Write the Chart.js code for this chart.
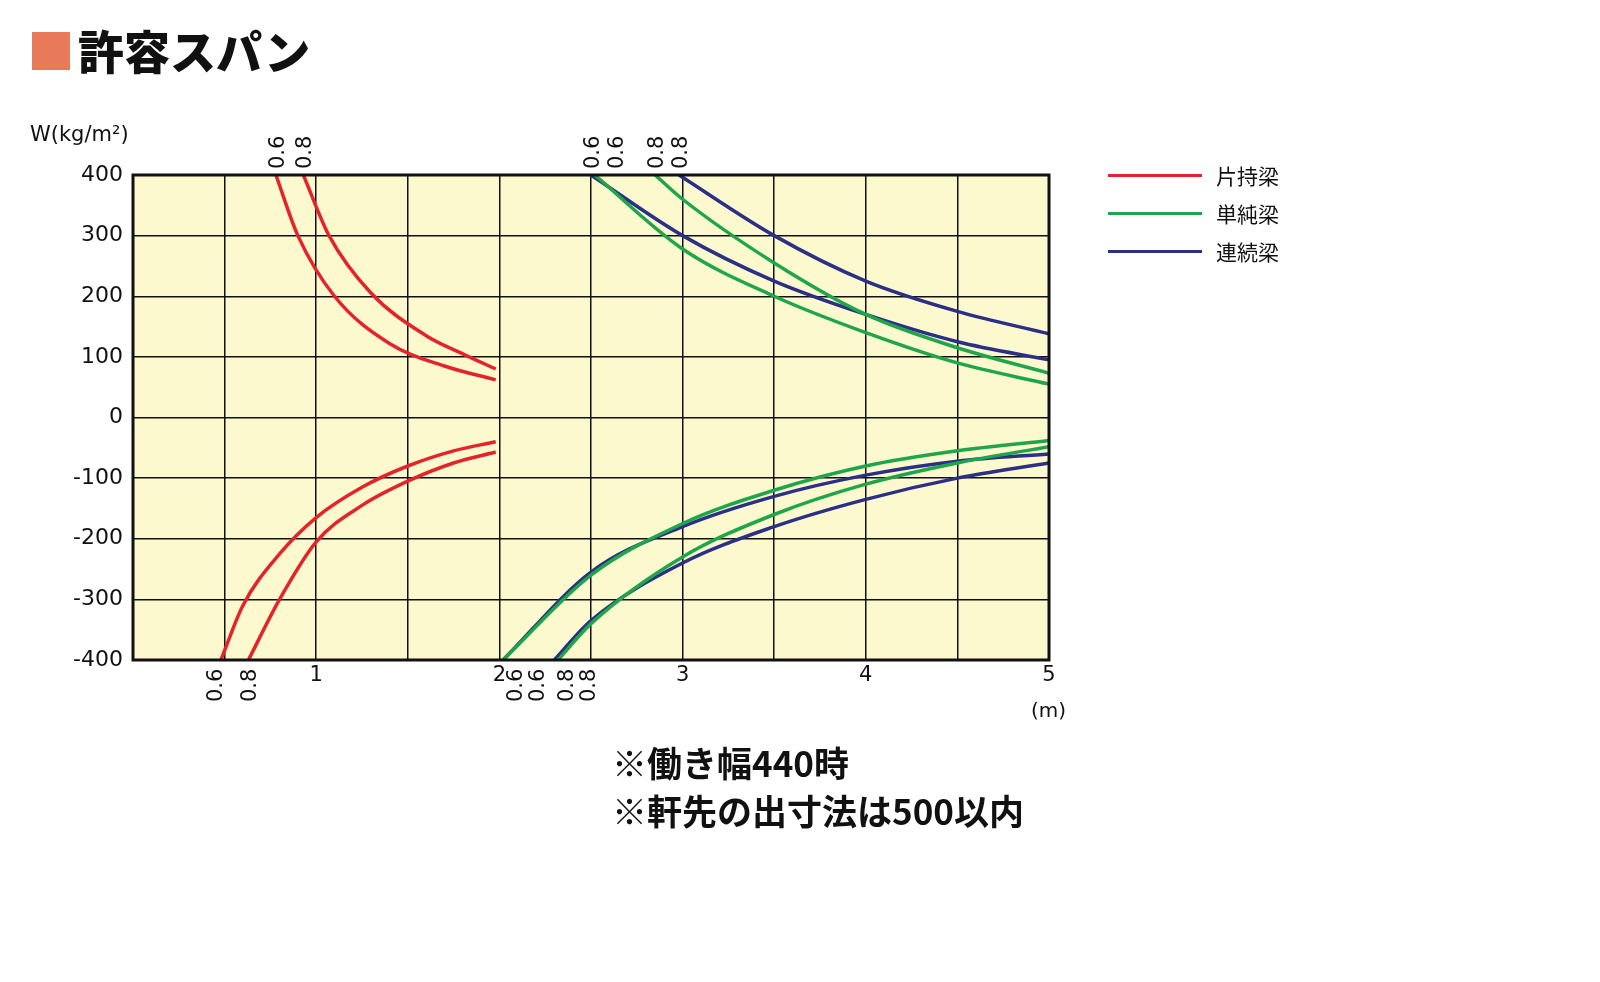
<!DOCTYPE html>
<html><head><meta charset="utf-8">
<script src="https://cdn.jsdelivr.net/npm/chart.js@4"></script>
<style>
body{margin:0;width:1600px;height:982px;background:#fff;font-family:"Noto Sans CJK JP",sans-serif;position:relative;overflow:hidden}
#wrap{position:absolute;left:0;top:0;width:1600px;height:982px}
.t{position:absolute;color:#111;z-index:2}
</style></head><body>
<div id="wrap"><canvas id="chart" width="1600" height="982"></canvas></div>
<div class="t" style="left:32px;top:32px;width:38px;height:38px;background:#e8795a"></div>
<div class="t" style="left:78px;top:16px;font-size:46px;font-weight:900">許容スパン</div>
<div class="t" style="left:30px;top:122px;font-size:21px;font-family:'DejaVu Sans'">W(kg/m²)</div>
<div class="t" style="left:1031px;top:698px;font-size:20px;font-family:'DejaVu Sans'">(m)</div>
<div class="t" style="left:612px;top:738px;font-size:35px;font-weight:700;line-height:48px">※働き幅440時<br>※軒先の出寸法は500以内</div>
<div id="legend" class="t" style="left:1108px;top:156px;font-size:21px"></div>
<script>
const RED = "#e3242b", GREEN = "#1fa54a", BLUE = "#2b2f86";
const redTop06 = [[0.78,400],[0.9,300],[1.1,200],[1.4,122],[1.7,85],[1.98,62]];
const redTop08 = [[0.93,400],[1.07,300],[1.3,205],[1.6,135],[1.8,105],[1.98,80]];
const redBot06 = [[0.48,-400],[0.6,-310],[0.8,-225],[1.0,-165],[1.25,-115],[1.5,-80],[1.75,-55],[1.98,-40]];
const redBot08 = [[0.63,-400],[0.8,-300],[1.0,-205],[1.25,-145],[1.5,-105],[1.75,-75],[1.98,-57]];
const greenTop06 = [[2.52,400],[3,278],[3.5,200],[4,140],[4.5,90],[5,55]];
const greenTop08 = [[2.85,400],[3,360],[3.5,255],[4,170],[4.5,115],[5,73]];
const blueTop06 = [[2.5,400],[3,300],[3.5,225],[4,170],[4.5,125],[5,95]];
const blueTop08 = [[2.98,400],[3.5,300],[4,225],[4.5,175],[5,138]];
const greenBot06 = [[2.02,-400],[2.5,-260],[3,-175],[3.5,-120],[4,-80],[4.5,-55],[5,-38]];
const greenBot08 = [[2.32,-400],[2.5,-340],[3,-230],[3.5,-160],[4,-110],[4.5,-75],[5,-48]];
const blueBot06 = [[2.02,-400],[2.5,-255],[3,-180],[3.5,-130],[4,-95],[4.5,-72],[5,-60]];
const blueBot08 = [[2.3,-400],[2.5,-335],[3,-240],[3.5,-180],[4,-135],[4.5,-100],[5,-75]];
const topMarks = [[0.78,"0.6"],[0.93,"0.8"],[2.5,"0.6"],[2.63,"0.6"],[2.85,"0.8"],[2.98,"0.8"]];
const botMarks = [[0.44,"0.6"],[0.63,"0.8"],[2.08,"0.6"],[2.2,"0.6"],[2.36,"0.8"],[2.48,"0.8"]];
const legendItems = [["片持梁",RED],["単純梁",GREEN],["連続梁",BLUE]];

document.getElementById("legend").innerHTML = legendItems.map(([n,c]) =>
  `<div style="display:flex;align-items:center;height:38px"><span style="display:inline-block;width:94px;height:3px;background:${c};margin-right:14px"></span>${n}</div>`).join("");

function ds(pts, color) {
  return { data: pts.map(p => ({x:p[0], y:p[1]})), borderColor: color, borderWidth: 3.5,
    showLine: true, pointRadius: 0, cubicInterpolationMode: "monotone", fill: false };
}

const deco = {
  id: "deco",
  beforeDraw(c) {
    const a = c.chartArea, ctx = c.ctx;
    ctx.save(); ctx.fillStyle = "#fdf9cf"; ctx.fillRect(a.left, a.top, a.width, a.height); ctx.restore();
  },
  afterDraw(c) {
    const a = c.chartArea, ctx = c.ctx, xs = c.scales.x;
    ctx.save();
    ctx.strokeStyle = "#111"; ctx.lineWidth = 3; ctx.strokeRect(a.left, a.top, a.width, a.height);
    ctx.fillStyle = "#111"; ctx.font = "21px 'DejaVu Sans'";
    topMarks.forEach(([v,t]) => {
      ctx.save(); ctx.translate(xs.getPixelForValue(v) + 8, a.top - 6); ctx.rotate(-Math.PI/2);
      ctx.textAlign = "left"; ctx.fillText(t, 0, 0); ctx.restore();
    });
    botMarks.forEach(([v,t]) => {
      ctx.save(); ctx.translate(xs.getPixelForValue(v) + 8, a.bottom + 42); ctx.rotate(-Math.PI/2);
      ctx.textAlign = "left"; ctx.fillText(t, 0, 0); ctx.restore();
    });
    ctx.restore();
  }
};

new Chart(document.getElementById("chart"), {
  type: "scatter",
  data: { datasets: [
    ds(redTop06,RED), ds(redTop08,RED), ds(redBot06,RED), ds(redBot08,RED),
    ds(greenTop06,GREEN), ds(greenTop08,GREEN), ds(greenBot06,GREEN), ds(greenBot08,GREEN),
    ds(blueTop06,BLUE), ds(blueTop08,BLUE), ds(blueBot06,BLUE), ds(blueBot08,BLUE)
  ]},
  options: {
    responsive: false, animation: false, devicePixelRatio: 1,
    layout: { padding: { top: 175, right: 551, left: 0, bottom: 0 } },
    plugins: { legend: { display: false }, tooltip: { enabled: false } },
    scales: {
      x: { type: "linear", min: 0, max: 5,
        ticks: { stepSize: 0.5, color: "#111", font: { size: 21, family: "DejaVu Sans" },
          callback: v => (Number.isInteger(v) && v > 0) ? String(v) : "", maxRotation: 0, autoSkip: false },
        grid: { color: "#111", lineWidth: 1.5, drawTicks: false },
        border: { display: false },
        afterFit: s => { s.height = 322; } },
      y: { min: -400, max: 400,
        ticks: { stepSize: 100, color: "#111", font: { size: 22, family: "DejaVu Sans" }, padding: 10 },
        grid: { color: "#111", lineWidth: 1.5, drawTicks: false },
        border: { display: false },
        afterFit: s => { s.width = 133; } }
    }
  },
  plugins: [deco]
});
</script>
</body></html>
